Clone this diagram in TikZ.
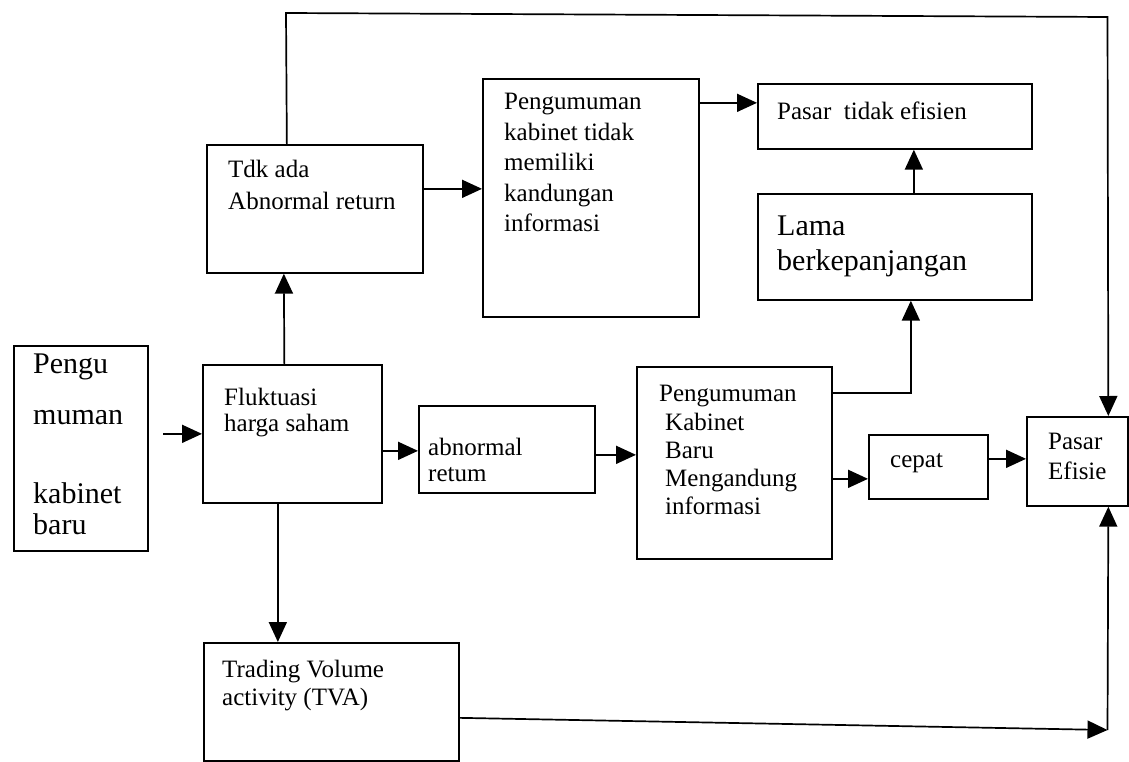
\documentclass[tikz,border=0pt]{standalone}
\usepackage{fontspec}
\setmainfont{Liberation Serif}
\usetikzlibrary{arrows.meta,calc}
\begin{document}
\begin{tikzpicture}[x=1pt,y=-1pt,
  box/.style={draw,line width=1.7pt,inner sep=0pt,anchor=north west},
  txt/.style={anchor=base west,inner sep=0pt,font=\fontsize{25}{30}\selectfont},
  txtL/.style={anchor=base west,inner sep=0pt,font=\fontsize{30}{36}\selectfont},
  arr/.style={line width=1.7pt,-{Triangle[length=20pt,width=18pt]}}]
\useasboundingbox (0,0) rectangle (1129,762);
% boxes
\node[box,minimum width=134pt,minimum height=205pt] (pengu) at (13,345) {};
\node[box,minimum width=179pt,minimum height=138pt] (fluk) at (202,364) {};
\node[box,minimum width=216pt,minimum height=128pt] (tdk) at (206,144) {};
\node[box,minimum width=216pt,minimum height=238pt] (peng1) at (482,78) {};
\node[box,minimum width=274pt,minimum height=65pt] (pte) at (757,83) {};
\node[box,minimum width=274pt,minimum height=106pt] (lama) at (757,193) {};
\node[box,minimum width=176pt,minimum height=87pt] (abn) at (418,405) {};
\node[box,minimum width=195pt,minimum height=192pt] (pkb) at (636,366) {};
\node[box,minimum width=119pt,minimum height=64pt] (cepat) at (868,434) {};
\node[box,minimum width=101pt,minimum height=89pt] (pe) at (1026,416) {};
\node[box,minimum width=255pt,minimum height=118pt] (tva) at (203,642) {};
% texts
\node[txtL] (pengu1) at (33,373) {Pengu};
\node[txtL] (pengu2) at (33,424) {muman};
\node[txtL] (pengu3) at (33,503) {kabinet};
\node[txtL] (pengu4) at (33,534) {baru};
\node[txt] (fluk1) at (224,405) {Fluktuasi};
\node[txt] (fluk2) at (224,431) {harga saham};
\node[txt] (tdk1) at (228,178) {Tdk ada};
\node[txt] (tdk2) at (228,210) {Abnormal return};
\node[txt] (pg1) at (504,110) {Pengumuman};
\node[txt] (pg2) at (504,141) {kabinet tidak};
\node[txt] (pg3) at (504,171) {memiliki};
\node[txt] (pg4) at (504,201) {kandungan};
\node[txt] (pg5) at (504,231) {informasi};
\node[txt] (pte1) at (777,120) {Pasar\ \ tidak efisien};
\node[txtL] (lama1) at (777,235) {Lama};
\node[txtL] (lama2) at (777,270) {berkepanjangan};
\node[txt] (abn1) at (428,455) {abnormal};
\node[txt] (abn2) at (428,481) {retum};
\node[txt] (pkb1) at (659,401) {Pengumuman};
\node[txt] (pkb2) at (665,430) {Kabinet};
\node[txt] (pkb3) at (665,458) {Baru};
\node[txt] (pkb4) at (665,486) {Mengandung};
\node[txt] (pkb5) at (665,514) {informasi};
\node[txt] (cep1) at (890,467) {cepat};
\node[txt] (pe1) at (1048,449) {Pasar};
\node[txt] (pe2) at (1048,479) {Efisie};
\node[txt] (tva1) at (222,677) {Trading Volume};
\node[txt] (tva2) at (222,705) {activity (TVA)};
% corner coordinates
\coordinate (tl) at (286,13);
\coordinate (tr) at (1107.5,17);
\coordinate (br) at (1107.5,730);
% connectors
\draw[arr] ($(fluk.west)+(-39,0)$) -- (fluk.west);
\draw[arr] ($(fluk.north)+(-8,0)$) -- ($(tdk.south)+(-31,0)$);
\draw[arr] ($(tdk.north)+(-28,0)$) -- (tl) -- (tr) -- ($(pe.north)+(31,0)$);
\draw[arr] ($(tdk.east)+(0,-20)$) -- ($(peng1.west)+(0,-9)$);
\draw[arr] ($(peng1.east)+(0,-95)$) -- ($(pte.west)+(0,-13.5)$);
\draw[arr] ($(lama.north)+(19,0)$) -- ($(pte.south)+(19,0)$);
\draw[arr] ($(fluk.east)+(0,17)$) -- ($(abn.west)+(0,1.5)$);
\draw[arr] ($(abn.east)+(0,5.5)$) -- ($(pkb.west)+(0,-8)$);
\draw[arr] ($(pkb.east)+(0,-70)$) -| ($(lama.south)+(16,0)$);
\draw[arr] ($(pkb.east)+(0,16)$) -- ($(cepat.west)+(0,12)$);
\draw[arr] ($(cepat.east)+(0,-8)$) -- ($(pe.west)+(0,-2.5)$);
\draw[arr] ($(fluk.south)+(-14.5,0)$) -- ($(tva.north)+(-53.5,0)$);
\draw[arr] ($(tva.east)+(0,16)$) -- (br);
\draw[arr] (br) -- ($(pe.south)+(31,0)$);
\end{tikzpicture}
\end{document}
